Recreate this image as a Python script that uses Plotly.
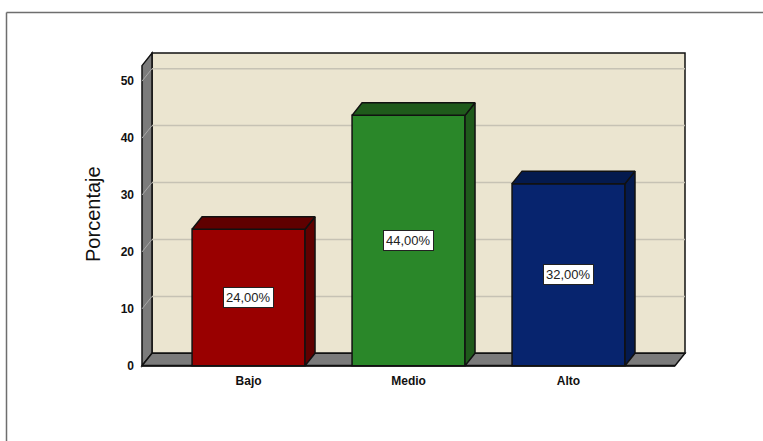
import plotly.graph_objects as go

categories = ["Bajo", "Medio", "Alto"]
values = [24, 44, 32]
labels = ["24,00%", "44,00%", "32,00%"]
front_colors = ["#990000", "#2A8729", "#07246E"]
dark_colors = ["#5F0000", "#1F5A1B", "#041A4E"]
y_ticks = [0, 10, 20, 30, 40, 50]

W, H = 763, 441
LAYOUT_H = H + 6  # the paper area comes out 6 px shorter than the layout height
LEFT, RIGHT, BOTTOM, TOP = 142, 685, 365, 53
PAD = 2  # spare pixels round the box, so that its outline is not clipped
BAR_W = 0.706
DX, DY = 0.0625, 2.2  # 3-D depth in data units
X0, X1 = -0.666, 2.728
Y0, Y1 = 0, 54.93
PXX = (RIGHT - LEFT) / (X1 - X0)
PXY = (BOTTOM - TOP) / (Y1 - Y0)
FX1 = X1 - DX  # right end of the front floor edge
BX0 = X0 + DX  # left end of the back wall
TOPV = Y1 - DY  # top of the front edge of the left wall

WALL = "#EBE5D0"
GRAY = "#7B7B7B"
GRID = "#C6C2B4"
FONT = "Liberation Sans"

def poly(xs, ys, fill, lw=1.5, color="#111111"):
    path = "M " + " L ".join(f"{x},{y}" for x, y in zip(xs, ys)) + " Z"
    return dict(type="path", xref="x", yref="y", path=path, fillcolor=fill,
                line=dict(color=color, width=lw), layer="below")

def seg(x0, y0, x1, y1, color=GRID, w=1.5):
    return dict(type="line", xref="x", yref="y", x0=x0, y0=y0, x1=x1, y1=y1,
                line=dict(color=color, width=w), layer="below")

shapes = [
    # outer frame of the picture
    dict(type="line", xref="paper", yref="paper", x0=6.5 / W, x1=1, y0=1 - 12.5 / H, y1=1 - 12.5 / H,
         line=dict(color="#6E6E6E", width=1.5)),
    dict(type="line", xref="paper", yref="paper", x0=6.5 / W, x1=6.5 / W, y0=0, y1=1 - 12.5 / H,
         line=dict(color="#6E6E6E", width=1.5)),
    poly([BX0, X1, X1, BX0], [DY, DY, Y1, Y1], WALL),
    poly([X0, BX0, BX0, X0], [0, DY, Y1, TOPV], GRAY),
    poly([X0, BX0, X1, FX1], [0, DY, DY, 0], GRAY),
]
for t in y_ticks:
    if t > 0:
        shapes.append(seg(BX0, t + DY, X1, t + DY))
        shapes.append(seg(X0, t, BX0, t + DY, color="#A8A8A8", w=1))
shapes.append(seg(X0, 0, FX1, 0, color="#111111", w=2))

fig = go.Figure()
fig.add_trace(go.Bar(x=list(range(3)), y=values, width=BAR_W, marker=dict(
    color=front_colors, line=dict(color="#111111", width=1.5)), hoverinfo="skip", showlegend=False))

for i, v in enumerate(values):
    l, r = i - BAR_W / 2, i + BAR_W / 2
    fig.add_trace(go.Scatter(x=[r, r + DX, r + DX, r, r], y=[0, DY, v + DY, v, 0], mode="lines",
                             fill="toself", fillcolor=dark_colors[i], line=dict(color="#111111", width=1.5),
                             hoverinfo="skip", showlegend=False))
    fig.add_trace(go.Scatter(x=[l, l + DX, r + DX, r, l], y=[v, v + DY, v + DY, v, v], mode="lines",
                             fill="toself", fillcolor=dark_colors[i], line=dict(color="#111111", width=1.5),
                             hoverinfo="skip", showlegend=False))

annotations = [dict(x=i, y=v / 2, text=labels[i], showarrow=False, xref="x", yref="y",
                    font=dict(family=FONT, size=13, color="#222222"), bgcolor="white",
                    bordercolor="#222222", borderwidth=1, borderpad=2)
               for i, v in enumerate(values)]
annotations.append(dict(x=93.5 / W, y=1 - 214 / H, xref="paper", yref="paper", text="Porcentaje", textangle=-90,
                        xanchor="center", yanchor="middle", showarrow=False,
                        font=dict(family=FONT, size=20, color="#111111")))

fig.update_layout(
    width=W, height=LAYOUT_H, margin=dict(l=0, r=0, t=0, b=0), autosize=False,
    paper_bgcolor="white", plot_bgcolor="rgba(0,0,0,0)", shapes=shapes, annotations=annotations,
    xaxis=dict(domain=[(LEFT - PAD) / W, (RIGHT + PAD) / W], range=[X0 - PAD / PXX, X1 + PAD / PXX],
               tickmode="array", tickvals=list(range(3)),
               ticktext=categories, showgrid=False, zeroline=False, showline=False, ticks="",
               tickfont=dict(family=FONT, size=12, color="#111111", weight="bold"), ticklabelstandoff=4),
    yaxis=dict(domain=[1 - (BOTTOM + PAD) / H, 1 - (TOP - PAD) / H], range=[Y0 - PAD / PXY, Y1 + PAD / PXY],
               tickmode="array", tickvals=y_ticks,
               showgrid=False, zeroline=False, showline=False, ticks="",
               tickfont=dict(family=FONT, size=12, color="#111111", weight="bold"),
               ticklabelstandoff=5),
)
fig.write_html("out.html", config=dict(displayModeBar=False),
               post_script="document.documentElement.style.overflow='hidden';document.body.style.margin='0';")
